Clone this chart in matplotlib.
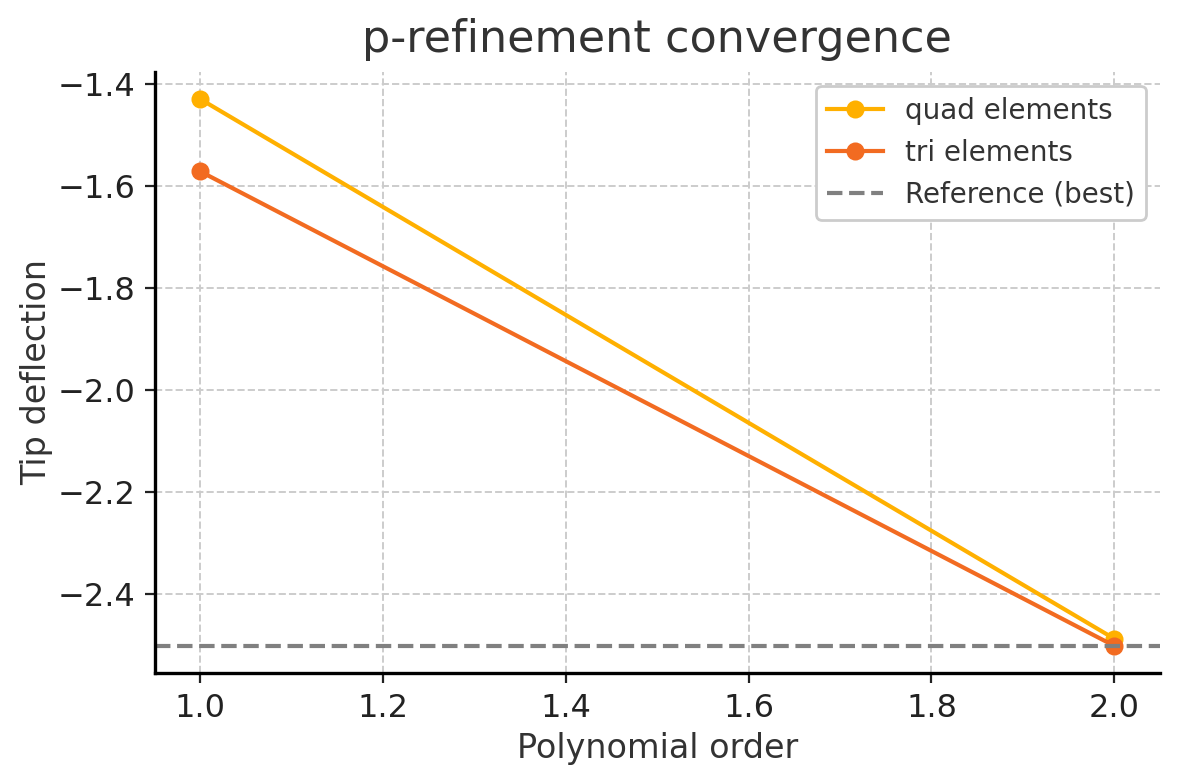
import matplotlib
matplotlib.use("Agg")
import matplotlib.pyplot as plt

orders = [1.0, 2.0]
quad_vals = [-1.429, -2.488]
tri_vals = [-1.571, -2.502]
reference_val = -2.502

plt.rcParams['font.family'] = ['DejaVu Sans']
plt.rcParams['text.color'] = '#333333'
plt.rcParams['axes.labelcolor'] = '#333333'

fig, ax = plt.subplots(figsize=(5.9, 3.9), dpi=200)
ax.plot(orders, quad_vals, marker='o', color='#FFB000', lw=1.5, ms=5.5, label='quad elements')
ax.plot(orders, tri_vals, marker='o', color='#F26B21', lw=1.5, ms=5.5, label='tri elements')
ax.axhline(reference_val, color='#808080', ls='--', lw=1.5, label='Reference (best)')

ax.set_title('p-refinement convergence', fontsize=16, color='#333333', pad=7)
ax.set_xlabel('Polynomial order', fontsize=12, labelpad=3)
ax.set_ylabel('Tip deflection', fontsize=12, labelpad=1.5)
ax.tick_params(labelsize=11.5, colors='#222222', labelcolor='#222222')
ax.grid(True, ls='--', color='#cccccc', lw=0.7)
ax.spines['top'].set_visible(False)
ax.spines['right'].set_visible(False)
ax.spines['left'].set_linewidth(1.2)
ax.spines['bottom'].set_linewidth(1.2)
leg = ax.legend(loc='upper right', fontsize=10, framealpha=1, edgecolor='#cccccc')
for t in leg.get_texts():
    t.set_color('#333333')

fig.subplots_adjust(left=0.131, right=0.983, bottom=0.137, top=0.908)
fig.savefig('out.png', dpi=200)
